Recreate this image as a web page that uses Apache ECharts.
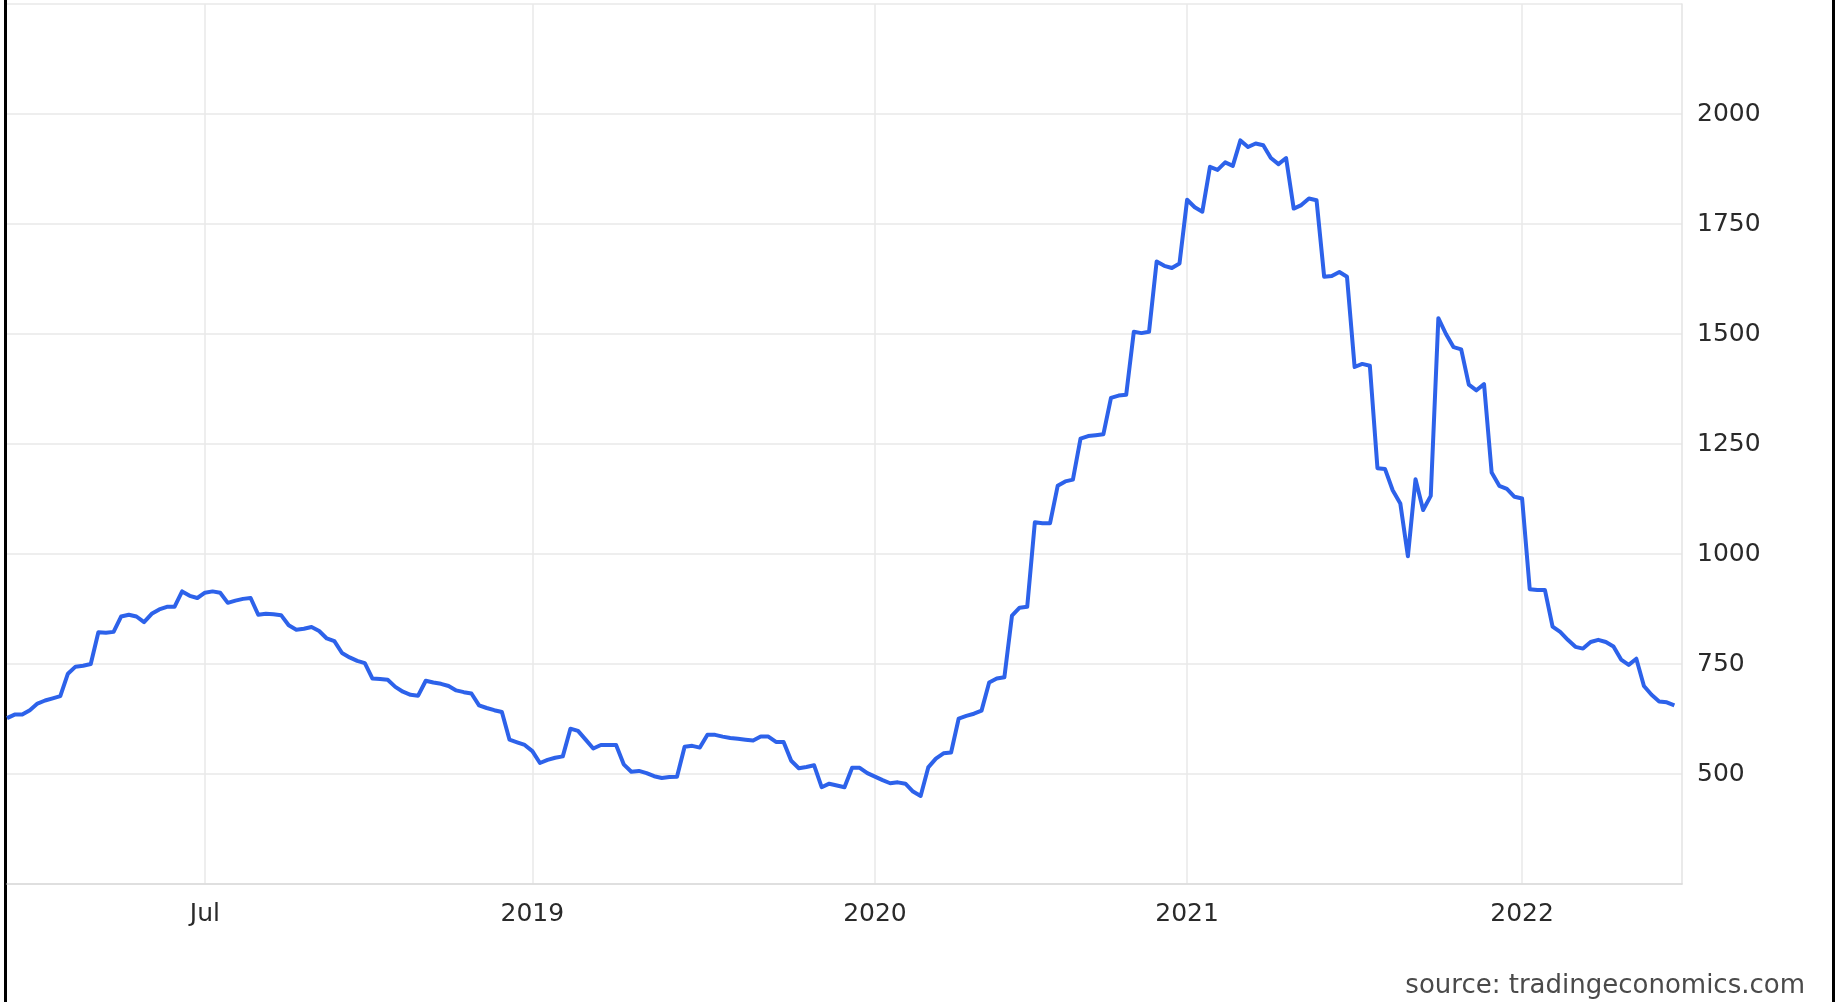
<!DOCTYPE html>
<html>
<head>
<meta charset="utf-8">
<script src="https://cdn.jsdelivr.net/npm/echarts@6/dist/echarts.min.js"></script>
<style>
html,body{margin:0;padding:0;background:#fff;}
#chart{width:1837px;height:1002px;}
</style>
</head>
<body>
<div id="chart"></div>
<script>
const values = [
627,635,635,645,660,667,672,677,728,744,
746,750,822,821,823,858,862,858,845,864,
874,880,880,915,905,900,912,915,912,889,
894,898,900,862,864,863,861,838,828,830,
834,825,808,802,775,765,757,752,717,716,
714,698,687,680,678,712,708,705,700,690,
686,683,656,650,645,641,578,572,566,552,
525,532,537,540,603,598,578,558,566,566,
566,522,505,507,502,495,491,493,494,562,
564,560,589,589,585,582,580,578,576,585,
585,573,573,530,513,516,520,470,478,474,
470,514,514,502,494,486,479,481,478,460,
450,515,535,547,549,626,632,637,644,708,
717,720,860,878,880,1072,1070,1070,1155,1165,
1169,1262,1268,1270,1272,1355,1360,1362,1505,1502,
1505,1665,1655,1650,1660,1805,1788,1778,1880,1873,
1890,1882,1940,1925,1933,1929,1900,1886,1900,1785,
1793,1808,1804,1630,1632,1641,1630,1425,1432,1428,
1195,1193,1145,1115,995,1170,1100,1132,1536,1500,
1470,1465,1385,1372,1386,1185,1155,1148,1130,1126,
920,918,918,835,823,805,789,785,800,805,
800,790,760,748,762,700,680,665,663,656
];
const slotCount = 221;
const tickIndex = [26, 69, 114, 155, 199];
const tickLabels = ['Jul', '2019', '2020', '2021', '2022'];
const yMin = 250, yMax = 2250, yStep = 250;
const sourceText = 'source: tradingeconomics.com';

const categories = Array.from({length: slotCount}, (_, i) => String(i));
const isTick = (i) => tickIndex.indexOf(Number(i)) >= 0;

const chart = echarts.init(document.getElementById('chart'), null, {renderer: 'canvas'});
chart.setOption({
  animation: false,
  backgroundColor: '#ffffff',
  grid: {left: 7, right: 155, top: 4, bottom: 118, containLabel: false},
  xAxis: {
    type: 'category',
    data: categories,
    boundaryGap: false,
    axisLine: {show: true, lineStyle: {color: '#dadada', width: 1.5}},
    axisTick: {show: false},
    axisLabel: {
      interval: (i) => isTick(i),
      formatter: (v) => tickLabels[tickIndex.indexOf(Number(v))] || '',
      color: '#2a2a2a',
      fontFamily: 'DejaVu Sans',
      fontSize: 25,
      margin: 18
    },
    splitLine: {show: true, interval: (i) => isTick(i), lineStyle: {color: '#e8e8e8', width: 1.5}}
  },
  yAxis: {
    type: 'value',
    position: 'right',
    min: yMin, max: yMax, interval: yStep,
    axisLine: {show: true, lineStyle: {color: '#e3e3e3', width: 1.5}},
    axisTick: {show: false},
    axisLabel: {
      showMinLabel: false, showMaxLabel: false,
      formatter: (v) => String(v),
      color: '#2a2a2a', fontFamily: 'DejaVu Sans', fontSize: 25, margin: 15, align: 'left'
    },
    splitLine: {show: true, lineStyle: {color: '#e8e8e8', width: 1.5}}
  },
  series: [{
    type: 'line',
    data: values,
    symbol: 'none',
    lineStyle: {color: '#2d62ea', width: 4, join: 'round'},
    z: 5
  }],
  graphic: [
    {type: 'rect', left: 4, top: 0, shape: {width: 3, height: 1002}, style: {fill: '#000'}},
    {type: 'rect', left: 1832, top: 0, shape: {width: 3, height: 1002}, style: {fill: '#000'}},
    {type: 'text', right: 32, top: 973, style: {text: sourceText, fill: '#4a4a4a', font: '26px "DejaVu Sans"'}}
  ]
});
</script>
</body>
</html>
